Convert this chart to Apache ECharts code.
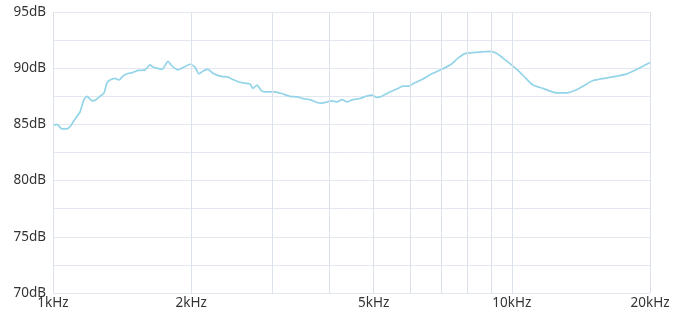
<!DOCTYPE html>
<html lang="en">
<head>
    <meta charset="UTF-8">
    <title>Frequency response</title>
    <script src="https://cdn.jsdelivr.net/npm/echarts@6/dist/echarts.min.js"></script>
    <style>
        html, body { margin: 0; padding: 0; background: #fff; }
    </style>
</head>
<body>
<div id="chartmain" style="width:673px; height:314px;"></div>
<script type="text/javascript">

    // frequency (Hz) and level (dB)
    var freq = [1000, 1020, 1046, 1073, 1094, 1122, 1145, 1168, 1186, 1216, 1241, 1266, 1292, 1311, 1331, 1365,
        1393, 1420, 1450, 1487, 1532, 1587, 1627, 1652, 1685, 1728, 1781, 1816, 1872, 1930, 1988, 2039,
        2080, 2133, 2177, 2232, 2312, 2406, 2480, 2530, 2594, 2687, 2728, 2783, 2854, 2941, 3046, 3172,
        3286, 3402, 3506, 3631, 3761, 3857, 3955, 4055, 4158, 4264, 4372, 4506, 4667, 4810, 4956, 5082,
        5212, 5370, 5646, 5789, 5936, 6148, 6369, 6697, 7041, 7404, 7630, 7903, 8309, 8606, 8960, 9280,
        9563, 9906, 10310, 10730, 11120, 11690, 12540, 13190, 13870, 14430, 15030, 15880, 16940, 17820,
        18730, 20000];
    var level = [84.9, 85.0, 84.6, 84.6, 84.9, 85.6, 86.1, 87.2, 87.5, 87.1, 87.2, 87.5, 87.8, 88.7, 88.95, 89.1,
        88.95, 89.3, 89.5, 89.6, 89.8, 89.85, 90.3, 90.1, 90.0, 89.9, 90.6, 90.2, 89.85, 90.1, 90.35, 90.1,
        89.5, 89.8, 89.9, 89.55, 89.3, 89.2, 88.95, 88.8, 88.7, 88.6, 88.2, 88.5, 87.95, 87.9, 87.9, 87.7,
        87.5, 87.45, 87.3, 87.2, 86.95, 86.9, 87.0, 87.1, 87.0, 87.2, 87.0, 87.2, 87.3, 87.5, 87.6, 87.4,
        87.5, 87.8, 88.2, 88.4, 88.4, 88.7, 89.0, 89.5, 89.9, 90.4, 90.9, 91.3, 91.4, 91.45, 91.5, 91.3,
        90.9, 90.4, 89.8, 89.1, 88.5, 88.2, 87.8, 87.8, 88.1, 88.5, 88.9, 89.1, 89.3, 89.5,
        89.9, 90.5];

    // vertical grid lines and the ones that carry a label
    var gridFreq = [1000, 2000, 3000, 4000, 5000, 6000, 7000, 8000, 9000, 10000, 20000];
    var freqLabels = {1000: '1kHz', 2000: '2kHz', 5000: '5kHz', 10000: '10kHz', 20000: '20kHz'};

    var points = [];
    for (var i = 0; i < freq.length; i++) {
        points.push([freq[i], level[i]]);
    }

    var vLines = [];
    for (var j = 0; j < gridFreq.length; j++) {
        var f = gridFreq[j];
        vLines.push({
            xAxis: f,
            label: {
                show: !!freqLabels[f],
                formatter: freqLabels[f] || ''
            }
        });
    }

    var labelFont = 'Noto Sans';

    var option = {
        animation: false,
        grid: {left: 53, right: 23, top: 12, bottom: 21},
        xAxis: {
            type: 'log',
            logBase: 10,
            min: 1000,
            max: 20000,
            axisLine: {show: false},
            axisTick: {show: false},
            axisLabel: {show: false},
            splitLine: {show: false}
        },
        yAxis: {
            type: 'value',
            min: 70,
            max: 95,
            interval: 2.5,
            axisLine: {show: false},
            axisTick: {show: false},
            axisLabel: {
                color: '#333',
                fontFamily: labelFont,
                fontSize: 13.5,
                margin: 7,
                formatter: function (v) {
                    return v % 5 === 0 ? v + 'dB' : '';
                }
            },
            splitLine: {lineStyle: {color: '#e3e8f0', width: 1}}
        },
        series: [{
            type: 'line',
            data: points,
            showSymbol: false,
            smooth: 0.2,
            lineStyle: {color: '#94d4e8', width: 1.7},
            markLine: {
                silent: true,
                symbol: 'none',
                animation: false,
                lineStyle: {color: '#dce2ec', width: 1, type: 'solid'},
                label: {
                    position: 'start',
                    distance: 3,
                    color: '#333',
                    fontFamily: labelFont,
                    fontSize: 13.5
                },
                emphasis: {disabled: true},
                data: vLines
            },
            z: 3
        }]
    };

    var myChart = echarts.init(document.getElementById('chartmain'));
    myChart.setOption(option);

</script>
</body>
</html>
